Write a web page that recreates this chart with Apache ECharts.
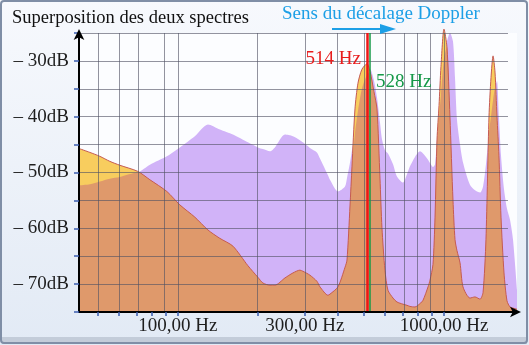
<!DOCTYPE html>
<html>
<head>
<meta charset="utf-8">
<script src="https://cdn.jsdelivr.net/npm/echarts@6/dist/echarts.min.js"></script>
<style>
html,body{margin:0;padding:0;background:#fff;}
#chart{width:529px;height:345px;}
</style>
</head>
<body>
<div id="chart"></div>
<script>
// ---------- data (frequencies in Hz, levels in dB) ----------
const freqHz = [42.5, 46.7, 50.9, 55.5, 60.5, 70.7, 78.5, 90.9, 101.7, 115.8,
  129.7, 143.8, 161, 183.3, 200, 208.7, 221.8, 231.5, 252.5, 270.6,
  287.5, 295, 313.5, 333, 342, 366.5, 372.8, 399.5, 424.6, 432,
  443.4, 451, 462.9, 475, 491.7, 514, 528, 545.5, 560, 574.7,
  584.7, 600, 615.8, 643.4, 665.8, 701.5, 726, 745, 778, 812.5,
  834, 871, 886, 909, 925.4, 941.6, 958, 974.3, 1000, 1026,
  1053, 1081, 1100, 1119, 1149, 1179, 1252, 1308, 1366, 1402,
  1438, 1476, 1502, 1529, 1555, 1582, 1609, 1638, 1681, 1725,
  1771, 1817, 1881];

// yellow / orange spectrum (source at 514 Hz)
const spectrumA = [-45.7, -46.4, -47.1, -48.0, -48.7, -49.8, -51.3, -53.4, -55.8, -58.0,
  -60.3, -61.8, -63.2, -66.7, -68.8, -69.8, -70.2, -70.2, -68.9, -68.0,
  -67.5, -67.7, -68.4, -69.5, -70.5, -72.0, -71.8, -70.5, -67.0, -65.7,
  -56.0, -49.0, -38.6, -34.0, -31.5, -30.5, -32.0, -35.5, -38.6, -51.0,
  -59.9, -67.5, -71.1, -72.5, -73.2, -73.6, -73.8, -74.0, -74.1, -73.5,
  -72.9, -70.5, -69.3, -66.5, -58.0, -44.0, -38.0, -31.0, -24.3, -27.5,
  -40.0, -55.0, -62.0, -64.0, -66.2, -70.5, -72.5, -72.3, -72.7, -71.5,
  -62.0, -40.0, -33.0, -29.1, -32.0, -40.0, -47.0, -58.0, -68.0, -73.0,
  -74.1, -74.3, -74.5];

// purple spectrum (shifted source at 528 Hz)
const spectrumB = [-52.3, -52.1, -51.6, -51.1, -50.8, -50.0, -48.6, -47.1, -45.5, -43.5,
  -41.4, -42.3, -43.2, -44.6, -45.5, -45.8, -46.2, -45.5, -43.2, -43.5,
  -44.2, -44.6, -45.6, -46.4, -47.5, -50.5, -51.3, -53.4, -52.5, -51.0,
  -48.2, -46.0, -43.0, -39.0, -35.0, -32.5, -31.5, -33.5, -36.5, -41.0,
  -44.0, -46.0, -46.6, -48.5, -50.7, -51.8, -50.3, -48.9, -47.2, -46.2,
  -46.6, -47.7, -48.3, -49.0, -48.5, -44.0, -40.0, -36.0, -29.5, -26.5,
  -25.0, -26.5, -33.0, -40.5, -45.0, -48.2, -52.2, -53.2, -53.6, -52.5,
  -48.5, -43.0, -40.0, -37.0, -34.8, -33.6, -40.0, -47.0, -53.0, -56.5,
  -58.5, -62.0, -71.0];

const markerHz = [514, 528];
const markerText = ['514 Hz', '528 Hz'];
const xLabelHz = [100, 300, 1000];
const xTickHz = [50, 60, 70, 80, 90, 100, 200, 300, 400, 500, 600, 700, 800, 900, 1000];
const xGridHz = [50, 60, 70, 90, 100, 200, 300, 400, 500, 600, 700, 800, 900, 1000];
const yGridDb = [-70, -65, -60, -55, -50, -45, -40, -35, -30, -25];
const yLabelDb = [-70, -60, -50, -40, -30];
const xRangeHz = [42.5, 1881];
const gridEndHz = 1740;
const yRange = [-75, -25];
const titleText = 'Superposition des deux spectres';
const dopplerText = 'Sens du décalage Doppler';

// ---------- build ----------
const LG = v => Math.log10(v);
const seriesA = freqHz.map((f, i) => [LG(f), spectrumA[i]]);
const seriesB = freqHz.map((f, i) => [LG(f), spectrumB[i]]);
const overlap = freqHz.map((f, i) => [LG(f), Math.min(spectrumA[i], spectrumB[i])]);

const FONT = '"Liberation Serif", "DejaVu Serif", serif';
const chart = echarts.init(document.getElementById('chart'), null, {renderer: 'canvas'});

const gridLines = [];
xGridHz.forEach(h => gridLines.push({xAxis: LG(h)}));
yGridDb.forEach(d => gridLines.push([{coord: [LG(xRangeHz[0]), d]}, {coord: [LG(gridEndHz), d]}]));

const option = {
  animation: false,
  backgroundColor: {
    type: 'linear', x: 0, y: 0, x2: 0, y2: 1,
    colorStops: [{offset: 0, color: '#f7f9fd'}, {offset: 1, color: '#e2eaf5'}]
  },
  grid: {left: 79, top: 33, width: 438, height: 279, show: true, backgroundColor: '#fcfdff', borderWidth: 0},
  xAxis: {
    type: 'value', min: LG(xRangeHz[0]), max: LG(xRangeHz[1]), z: 10,
    axisLine: {show: true, lineStyle: {color: '#000', width: 2}, symbol: ['none', 'arrow'], symbolSize: [8, 11], symbolOffset: [0, 4]},
    axisTick: {show: true, customValues: xTickHz.map(LG), length: 4, lineStyle: {color: '#3b5db0', width: 1.5}},
    axisLabel: {customValues: xLabelHz.map(LG), formatter: v => Math.round(Math.pow(10, v)) + ',00 Hz',
      margin: 5, fontSize: 19, fontFamily: FONT, color: '#1e1e1e'},
    splitLine: {show: false}
  },
  yAxis: {
    type: 'value', min: yRange[0], max: yRange[1], interval: 5, z: 10,
    axisLine: {show: true, onZero: false, lineStyle: {color: '#000', width: 2}, symbol: ['none', 'arrow'], symbolSize: [8, 11], symbolOffset: [0, 4]},
    axisTick: {show: true, length: 5, lineStyle: {color: '#3b5db0', width: 1.5}},
    axisLabel: {formatter: v => yLabelDb.indexOf(v) >= 0 ? '– ' + (-v) + 'dB' : '',
      margin: 10, fontSize: 19, fontFamily: FONT, color: '#1e1e1e'},
    splitLine: {show: false}
  },
  series: [
    {type: 'line', name: 'B', data: seriesB, symbol: 'none', smooth: 0.25, clip: false,
      lineStyle: {width: 0}, areaStyle: {color: '#d1b3f8', opacity: 1, origin: 'start'}, z: 2},
    {type: 'line', name: 'A', data: seriesA, symbol: 'none', smooth: 0.25, clip: false,
      lineStyle: {width: 0}, areaStyle: {color: '#f8cd5e', opacity: 1, origin: 'start'}, z: 2},
    {type: 'line', name: 'AB', data: overlap, symbol: 'none', smooth: 0.25, clip: false,
      lineStyle: {width: 0}, areaStyle: {color: '#df996b', opacity: 1, origin: 'start'}, z: 2},
    {type: 'line', name: 'Aline', data: seriesA, symbol: 'none', smooth: 0.25, clip: false,
      lineStyle: {width: 1, color: '#c45a55'}, z: 3},
    {type: 'line', name: 'grid', data: [], z: 4,
      markLine: {silent: true, symbol: ['none', 'none'], animation: false, label: {show: false},
        lineStyle: {color: 'rgba(80,82,100,0.62)', width: 1, type: 'solid'}, data: gridLines}},
    {type: 'line', name: 'markers', data: [], z: 5,
      markLine: {silent: true, symbol: ['none', 'none'], animation: false, label: {show: false},
        data: [
          {xAxis: LG(markerHz[0]), lineStyle: {color: '#ee1515', width: 2.5, type: 'solid'}},
          {xAxis: LG(markerHz[1]), lineStyle: {color: '#179a48', width: 1.5, type: 'solid'}}
        ]}}
  ],
  graphic: [
    {type: 'rect', z: 100, silent: true, shape: {x: 1, y: 1, width: 526, height: 342, r: 3},
      style: {fill: 'none', stroke: '#7f8ea6', lineWidth: 2}},
    {type: 'rect', z: 99, silent: true, shape: {x: 2, y: 337, width: 525, height: 7},
      style: {fill: '#c3ccd9'}},
    {type: 'text', left: 12, top: 9, z: 50,
      style: {text: titleText, font: '18.5px ' + FONT, fill: '#111'}},
    {type: 'text', left: 282, top: 5, z: 50,
      style: {text: dopplerText, font: '19px ' + FONT, fill: '#1c9fe6'}},
    {type: 'line', z: 50, shape: {x1: 332, y1: 29, x2: 384, y2: 29},
      style: {stroke: '#1c9fe6', lineWidth: 2}},
    {type: 'polygon', z: 50, shape: {points: [[380, 24], [396, 29], [380, 34]]},
      style: {fill: '#1c9fe6'}},
    {type: 'text', z: 50, x: 361, y: 59,
      style: {text: markerText[0], font: '19px ' + FONT, fill: '#e81d1d', align: 'right', verticalAlign: 'middle'}},
    {type: 'text', z: 50, x: 376, y: 82,
      style: {text: markerText[1], font: '19px ' + FONT, fill: '#159848', align: 'left', verticalAlign: 'middle'}}
  ]
};
chart.setOption(option);
</script>
</body>
</html>
